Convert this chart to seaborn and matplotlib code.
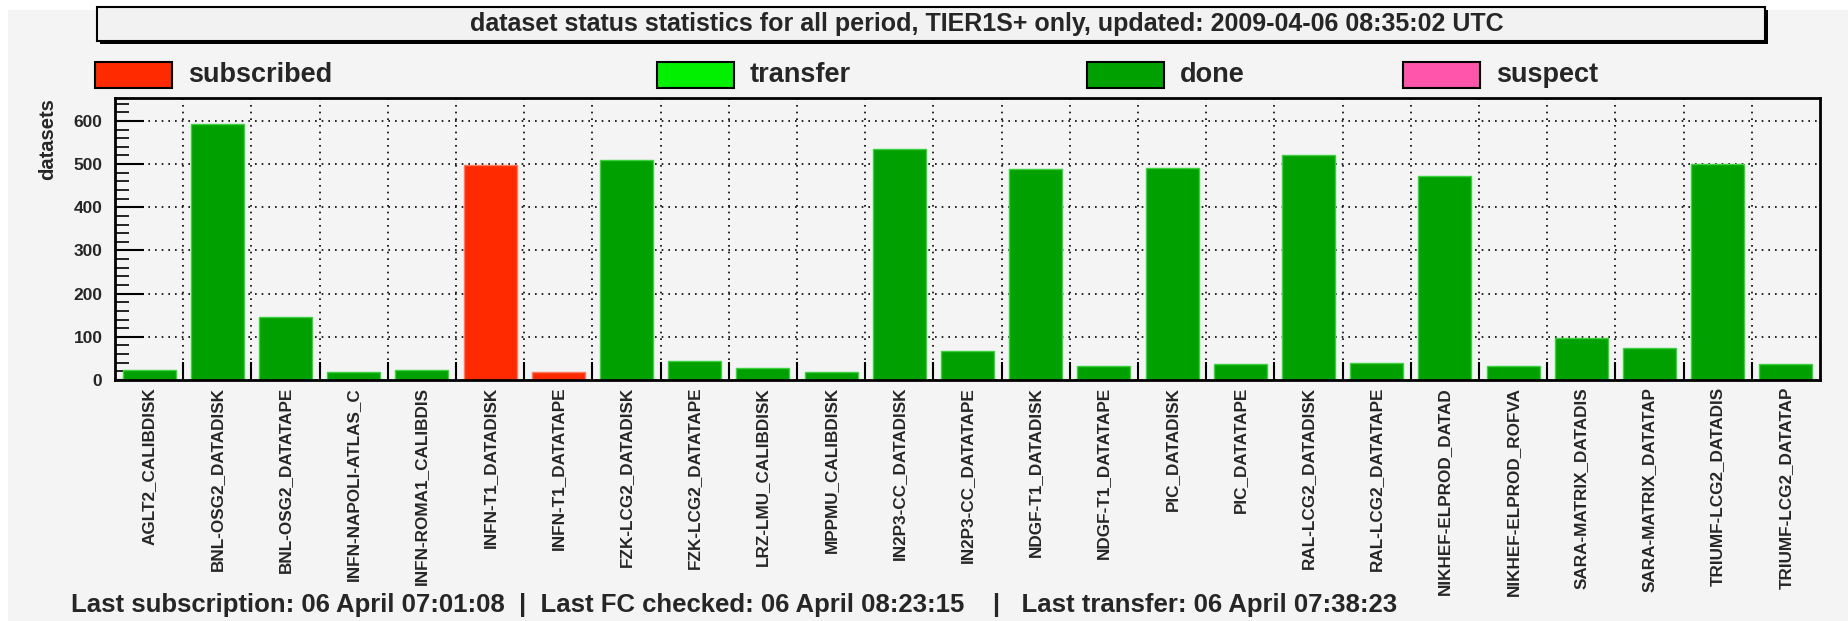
import numpy as np
import pandas as pd
import seaborn as sns
import matplotlib.pyplot as plt
from matplotlib.patches import Rectangle
from matplotlib.ticker import MultipleLocator, FixedLocator

sites = ['AGLT2_CALIBDISK', 'BNL-OSG2_DATADISK', 'BNL-OSG2_DATATAPE',
         'INFN-NAPOLI-ATLAS_C', 'INFN-ROMA1_CALIBDIS', 'INFN-T1_DATADISK',
         'INFN-T1_DATATAPE', 'FZK-LCG2_DATADISK', 'FZK-LCG2_DATATAPE',
         'LRZ-LMU_CALIBDISK', 'MPPMU_CALIBDISK', 'IN2P3-CC_DATADISK',
         'IN2P3-CC_DATATAPE', 'NDGF-T1_DATADISK', 'NDGF-T1_DATATAPE',
         'PIC_DATADISK', 'PIC_DATATAPE', 'RAL-LCG2_DATADISK',
         'RAL-LCG2_DATATAPE', 'NIKHEF-ELPROD_DATAD', 'NIKHEF-ELPROD_ROFVA',
         'SARA-MATRIX_DATADIS', 'SARA-MATRIX_DATATAP', 'TRIUMF-LCG2_DATADIS',
         'TRIUMF-LCG2_DATATAP']
subscribed = [0, 0, 0, 0, 0, 497, 18, 0, 0, 0, 0, 0, 0,
              0, 0, 0, 0, 0, 0, 0, 0, 0, 0, 0, 0]
transfer = [0, 0, 0, 0, 0, 0, 0, 0, 0, 0, 0, 0, 0,
            0, 0, 0, 0, 0, 0, 0, 0, 0, 0, 0, 0]
done = [22, 593, 145, 18, 22, 0, 0, 510, 45, 28, 18, 535, 67,
        488, 32, 492, 37, 522, 40, 472, 32, 97, 75, 500, 37]
suspect = [0, 0, 0, 0, 0, 0, 0, 0, 0, 0, 0, 0, 0,
           0, 0, 0, 0, 0, 0, 0, 0, 0, 0, 0, 0]

status_names = ['subscribed', 'transfer', 'done', 'suspect']
status_colors = ['#ff2a00', '#00f000', '#00a000', '#ff55aa']
edge_colors = {'#ff2a00': '#ff7a5c', '#00a000': '#3fd03f'}

title = 'dataset status statistics for all period, TIER1S+ only, updated: 2009-04-06 08:35:02 UTC'
footer = ('Last subscription: 06 April 07:01:08  |  Last FC checked: 06 April 08:23:15'
          '    |   Last transfer: 06 April 07:38:23')

df = pd.DataFrame({'site': sites * 4,
                   'count': subscribed + transfer + done + suspect,
                   'status': np.repeat(status_names, len(sites))})

sns.set_style('ticks')
plt.rcParams['font.family'] = ['Liberation Sans', 'DejaVu Sans']

W, H = 1849, 621
bg = '#f4f4f4'
fig = plt.figure(figsize=(W / 100, H / 100), dpi=100, facecolor='white')
# grey canvas with thin white margin on top/left
fig.patches.append(Rectangle((8 / W, 0), 1, 1 - 10 / H, transform=fig.transFigure,
                             facecolor=bg, edgecolor='none', zorder=-10))

ax = fig.add_axes([115 / W, (H - 380) / H, 1705 / W, 282 / H])
ax.set_facecolor(bg)

sns.barplot(data=df, x='site', y='count', hue='status', hue_order=status_names,
            palette=status_colors, dodge=False, width=0.78, saturation=1,
            legend=False, ax=ax)

for p in ax.patches:
    if p.get_height() > 0:
        fc = p.get_facecolor()
        hexc = '#%02x%02x%02x' % tuple(int(round(c * 255)) for c in fc[:3])
        p.set_edgecolor(edge_colors.get(hexc, hexc))
        p.set_linewidth(1.0)
    else:
        p.set_linewidth(0)

ax.set_xlim(-0.5, len(sites) - 0.5)
ax.set_ylim(0, 653)
ax.set_xlabel('')
ax.set_ylabel('datasets', loc='top', fontsize=14.5, fontweight='bold')
ax.yaxis.set_label_coords(-58 / 1705, 1.0)

ax.set_xticks(range(len(sites)))
ax.set_xticklabels(sites, rotation=90, fontsize=12.3, fontweight='bold')
ax.tick_params(axis='x', which='major', length=0, pad=5)
ax.xaxis.set_minor_locator(FixedLocator(np.arange(0.5, len(sites) - 1, 1)))
ax.tick_params(axis='x', which='minor', direction='in', length=13, width=1.5, color='black')

ax.yaxis.set_major_locator(MultipleLocator(100))
ax.yaxis.set_minor_locator(MultipleLocator(20))
ax.tick_params(axis='y', which='major', direction='in', length=21, width=1.5,
               labelsize=12.5, pad=9, color='black')
ax.tick_params(axis='y', which='minor', direction='in', length=10, width=1.2, color='black')
for lbl in ax.get_yticklabels():
    lbl.set_fontweight('bold')

ax.set_axisbelow(True)
ax.grid(which='minor', axis='x', color='black', linestyle=(0, (1, 3)), linewidth=1.2)
ax.grid(which='major', axis='y', color='black', linestyle=(0, (1, 3)), linewidth=1.2)
for s in ax.spines.values():
    s.set_visible(True)
    s.set_color('black')
    s.set_linewidth(2)

# title box with shadow
fig.patches.append(Rectangle((100 / W, 1 - 44 / H), 1668 / W, 34 / H, transform=fig.transFigure,
                             facecolor='black', edgecolor='none', zorder=1))
fig.patches.append(Rectangle((97 / W, 1 - 41 / H), 1668 / W, 34 / H, transform=fig.transFigure,
                             facecolor='#f2f2f2', edgecolor='black', linewidth=1.5, zorder=2))
fig.text(987 / W, 1 - 24 / H, title, ha='center', va='center',
         fontsize=18, fontweight='bold', zorder=3)

# legend row
legend_x = [95, 657, 1087, 1403]
for name, color, x0 in zip(status_names, status_colors, legend_x):
    fig.patches.append(Rectangle((x0 / W, 1 - 88 / H), 77 / W, 26 / H,
                                 transform=fig.transFigure, facecolor=color,
                                 edgecolor='black', linewidth=1.5))
    fig.text((x0 + 93) / W, 1 - 75 / H, name, ha='left', va='center',
             fontsize=19.5, fontweight='bold')

fig.text(71 / W, 1 - 605 / H, footer, ha='left', va='center',
         fontsize=18.5, fontweight='bold')

fig.savefig('out.png', dpi=100, facecolor=fig.get_facecolor())
